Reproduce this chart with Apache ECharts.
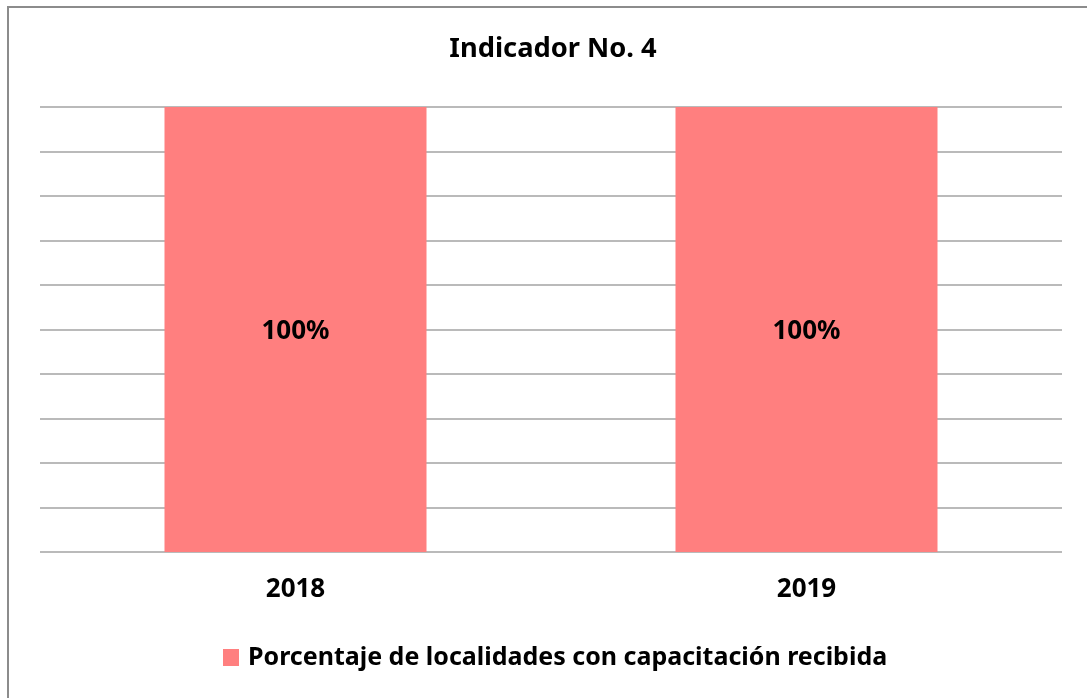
<!DOCTYPE html>
<html>
<head>
<meta charset="utf-8">
<script src="https://cdn.jsdelivr.net/npm/echarts@6/dist/echarts.min.js"></script>
<style>
  html, body { margin: 0; padding: 0; background: #fff; overflow: hidden; }
  .chart-wrapper { position: relative; width: 1087px; height: 698px; }
  .chart-frame {
    position: absolute; left: 7px; top: 6px; width: 1200px; height: 800px;
    border-left: 2px solid #8c8c8c; border-top: 2px solid #8c8c8c;
    pointer-events: none;
  }
  #indicadorChart { width: 1087px; height: 698px; }
</style>
</head>
<body>
<div class="chart-wrapper">
  <div id="indicadorChart"></div>
  <div class="chart-frame"></div>
</div>
<script>
// datos del gráfico
const years = ["2018", "2019"];
const porcentajes = [100, 100];
const seriesName = "Porcentaje de localidades con capacitación recibida";

const FONT = "'Noto Sans', sans-serif";
const BAR_COLOR = "#FF7F7F";
const GRID_COLOR = "#a3a3a3";

const chart = echarts.init(document.getElementById("indicadorChart"));

const option = {
  animation: false,
  title: {
    text: "Indicador No. 4",
    left: 548,
    textAlign: "center",
    top: 31,
    textStyle: { fontFamily: FONT, fontWeight: "bold", fontSize: 27.3, color: "#000" },
  },
  legend: {
    data: [seriesName],
    left: 218,
    top: 640,
    icon: "rect",
    itemWidth: 16,
    itemHeight: 17,
    itemGap: 7,
    textStyle: {
      fontFamily: FONT,
      fontWeight: "bold",
      fontSize: 25,
      color: "#000",
      padding: [0, 0, 0, 4],
    },
  },
  grid: {
    left: 40,
    right: 25,
    top: 107,
    bottom: 146,
  },
  xAxis: {
    type: "category",
    data: years,
    axisLine: { show: false },
    axisTick: { show: false },
    axisLabel: {
      margin: 25,
      fontFamily: FONT,
      fontWeight: "bold",
      fontSize: 26,
      color: "#000",
    },
  },
  yAxis: {
    type: "value",
    min: 0,
    max: 100,
    interval: 10,
    axisLabel: { show: false },
    axisLine: { show: false },
    axisTick: { show: false },
    splitLine: { lineStyle: { color: GRID_COLOR, width: 1.5 } },
  },
  series: [
    {
      name: seriesName,
      type: "bar",
      barWidth: 262,
      data: porcentajes,
      itemStyle: { color: BAR_COLOR },
      label: {
        show: true,
        position: "inside",
        offset: [0, 2],
        formatter: (p) => p.value + "%",
        fontFamily: FONT,
        fontWeight: "bold",
        fontSize: 26,
        color: "#000",
      },
    },
  ],
};

chart.setOption(option);
</script>
</body>
</html>
